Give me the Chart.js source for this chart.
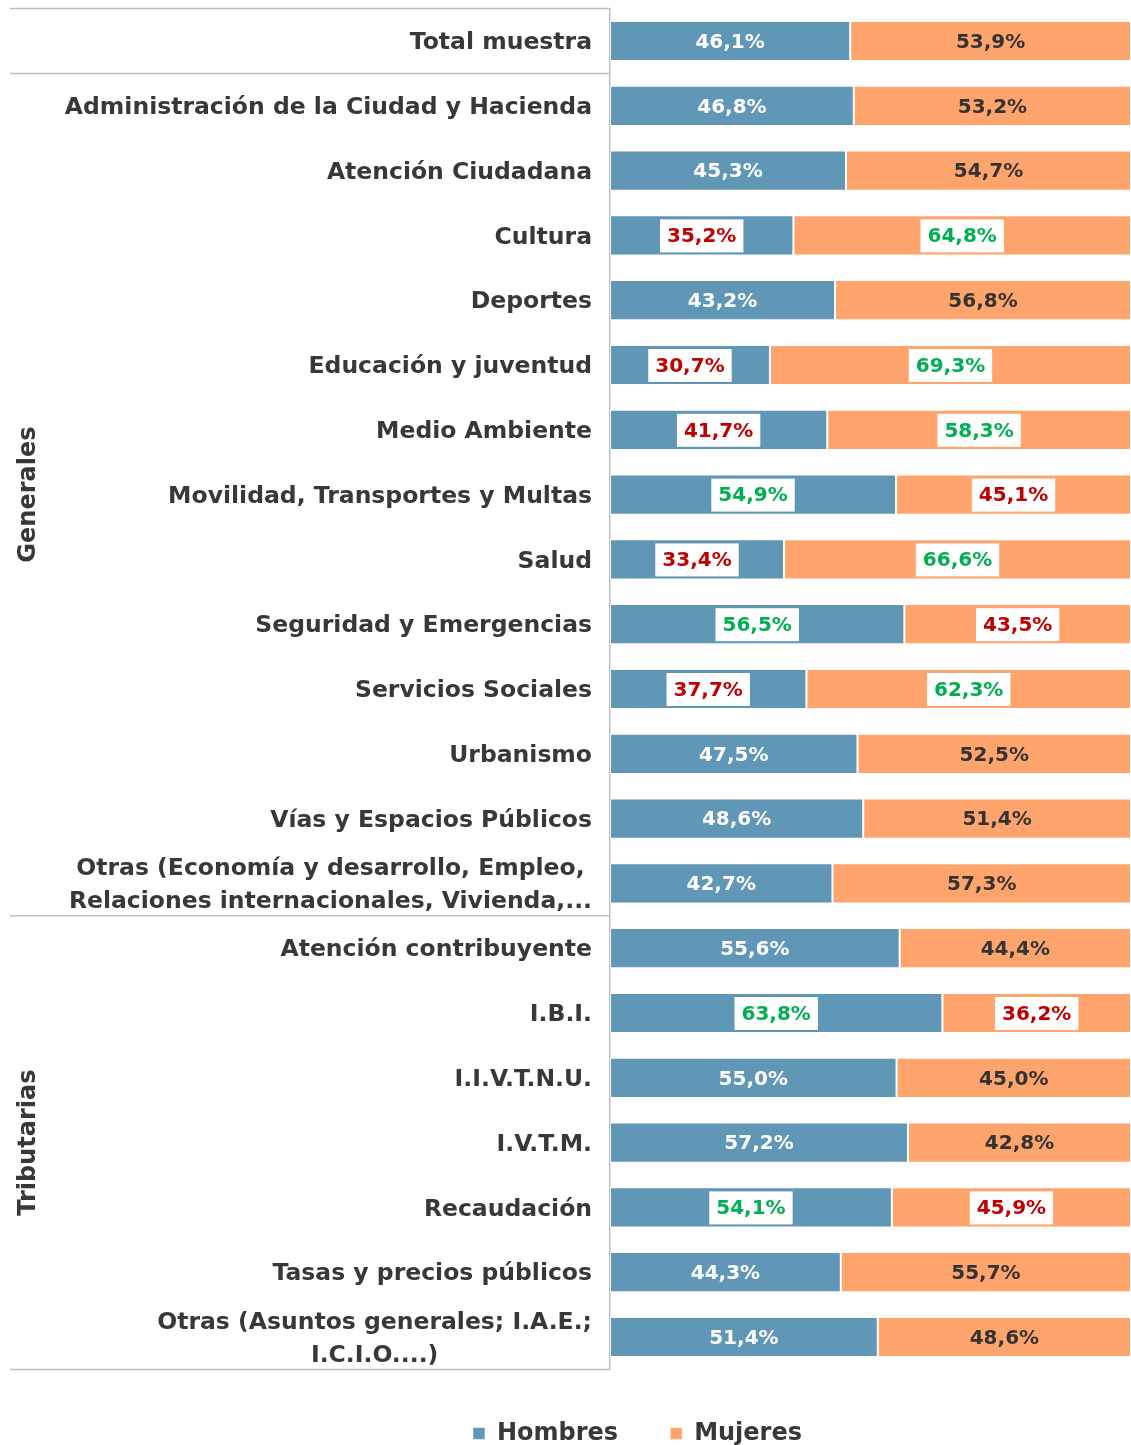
<!DOCTYPE html>
<html>
<head>
<meta charset="utf-8">
<script src="https://cdn.jsdelivr.net/npm/chart.js@4.4.0/dist/chart.umd.min.js"></script>
<style>
html, body { margin: 0; padding: 0; background: #fff; }
#wrap { width: 1131px; height: 1445px; }
</style>
</head>
<body>
<div id="wrap"><canvas id="ChartData"></canvas></div>
<script>
var categorias = [
    'Total muestra',
    'Administración de la Ciudad y Hacienda',
    'Atención Ciudadana',
    'Cultura',
    'Deportes',
    'Educación y juventud',
    'Medio Ambiente',
    'Movilidad, Transportes y Multas',
    'Salud',
    'Seguridad y Emergencias',
    'Servicios Sociales',
    'Urbanismo',
    'Vías y Espacios Públicos',
    ['Otras (Economía y desarrollo, Empleo,', 'Relaciones internacionales, Vivienda,...'],
    'Atención contribuyente',
    'I.B.I.',
    'I.I.V.T.N.U.',
    'I.V.T.M.',
    'Recaudación',
    'Tasas y precios públicos',
    ['Otras (Asuntos generales; I.A.E.;', 'I.C.I.O....)']
];
var hombres = [46.1, 46.8, 45.3, 35.2, 43.2, 30.7, 41.7, 54.9, 33.4, 56.5, 37.7, 47.5, 48.6, 42.7, 55.6, 63.8, 55.0, 57.2, 54.1, 44.3, 51.4];
var mujeres = [53.9, 53.2, 54.7, 64.8, 56.8, 69.3, 58.3, 45.1, 66.6, 43.5, 62.3, 52.5, 51.4, 57.3, 44.4, 36.2, 45.0, 42.8, 45.9, 55.7, 48.6];
// 1 = hombres destacado (verde) / mujeres (rojo); -1 = al reves; 0 = normal
var destacado = [0, 0, 0, -1, 0, -1, -1, 1, -1, 1, -1, 0, 0, 0, 0, 1, 0, 0, 1, 0, 0];
var grupoNombres = ['Generales', 'Tributarias'];
var grupoDesde = [1, 14];
var grupoHasta = [13, 20];

var FUENTE = '"DejaVu Sans", Verdana, sans-serif';
var AZUL = '#6097B7';
var NARANJA = '#FFA46C';
var GRIS_TEXTO = '#383838';
var ROJO = '#C00000';
var VERDE = '#00B050';

function formatear(v) {
    return v.toFixed(1).replace('.', ',') + '%';
}

var extras = {
    id: 'extras',
    afterDatasetsDraw: function (chart) {
        var ctx = chart.ctx;
        ctx.save();
        ctx.font = 'bold 20px ' + FUENTE;
        ctx.textAlign = 'center';
        ctx.textBaseline = 'middle';
        chart.data.datasets.forEach(function (ds, d) {
            var meta = chart.getDatasetMeta(d);
            meta.data.forEach(function (bar, i) {
                var cx = (bar.x + bar.base) / 2;
                var txt = formatear(ds.data[i]);
                var marca = destacado[i];
                if (marca !== 0) {
                    var w = ctx.measureText(txt).width + 14;
                    ctx.fillStyle = '#fff';
                    ctx.fillRect(cx - w / 2, bar.y - 16, w, 33);
                    var bueno = (d === 0 && marca === 1) || (d === 1 && marca === -1);
                    ctx.fillStyle = bueno ? VERDE : ROJO;
                } else {
                    ctx.fillStyle = d === 0 ? '#fff' : '#333';
                }
                ctx.fillText(txt, cx, bar.y + 1.5);
            });
        });
        ctx.restore();
    },
    afterDraw: function (chart) {
        var ctx = chart.ctx;
        var ys = chart.scales.y;
        var area = chart.chartArea;
        var medio = (ys.getPixelForValue(1) - ys.getPixelForValue(0)) / 2;
        ctx.save();

        // lineas separadoras
        ctx.strokeStyle = '#BFBFBF';
        ctx.lineWidth = 1.5;
        var cortes = [ys.getPixelForValue(0) - medio, ys.getPixelForValue(0) + medio,
            ys.getPixelForValue(grupoHasta[0]) + medio, ys.getPixelForValue(grupoHasta[1]) + medio];
        cortes.forEach(function (yy) {
            ctx.beginPath();
            ctx.moveTo(10, yy);
            ctx.lineTo(area.left, yy);
            ctx.stroke();
        });

        // etiquetas de categoria
        ctx.font = 'bold 23.5px ' + FUENTE;
        ctx.fillStyle = GRIS_TEXTO;
        ctx.textBaseline = 'middle';
        ctx.textAlign = 'center';
        var derecha = area.left - 18;
        categorias.forEach(function (label, i) {
            var lineas = Array.isArray(label) ? label : [label];
            var yc = ys.getPixelForValue(i) + 2;
            var maxW = 0;
            lineas.forEach(function (l) { maxW = Math.max(maxW, ctx.measureText(l).width); });
            lineas.forEach(function (l, k) {
                ctx.fillText(l, derecha - maxW / 2, yc + (k - (lineas.length - 1) / 2) * 33);
            });
        });

        // grupos
        ctx.font = 'bold 24px ' + FUENTE;
        grupoNombres.forEach(function (nombre, g) {
            var yc = (ys.getPixelForValue(grupoDesde[g]) + ys.getPixelForValue(grupoHasta[g])) / 2;
            ctx.save();
            ctx.translate(29, yc);
            ctx.rotate(-Math.PI / 2);
            ctx.fillText(nombre, 0, 0);
            ctx.restore();
        });
        ctx.restore();
    }
};

var ctx = document.getElementById('ChartData').getContext('2d');
var chart = new Chart(ctx, {
    type: 'bar',
    data: {
        labels: categorias,
        datasets: [{
            label: 'Hombres',
            data: hombres,
            backgroundColor: AZUL,
            borderColor: 'rgba(255,255,255,0.6)',
            borderWidth: 1,
            borderSkipped: false
        }, {
            label: 'Mujeres',
            data: mujeres,
            backgroundColor: NARANJA,
            borderColor: 'rgba(255,255,255,0.6)',
            borderWidth: 1,
            borderSkipped: false
        }]
    },
    options: {
        indexAxis: 'y',
        responsive: true,
        maintainAspectRatio: false,
        animation: false,
        datasets: { bar: { categoryPercentage: 1, barPercentage: 0.62 } },
        layout: { padding: { left: 144, right: 0, top: 8.6, bottom: -10.4 } },
        scales: {
            x: { stacked: true, min: 0, max: 100, display: false },
            y: {
                stacked: true,
                ticks: { display: false },
                grid: { display: false },
                border: { display: true, color: '#BFBFBF', width: 1.5 },
                afterFit: function (s) { s.width = 466; }
            }
        },
        plugins: {
            legend: {
                position: 'bottom',
                labels: {
                    boxWidth: 12,
                    boxHeight: 12,
                    padding: 52,
                    color: GRIS_TEXTO,
                    font: { family: FUENTE, size: 24, weight: 'bold' }
                }
            },
            tooltip: { enabled: false }
        }
    },
    plugins: [extras]
});
</script>
</body>
</html>
